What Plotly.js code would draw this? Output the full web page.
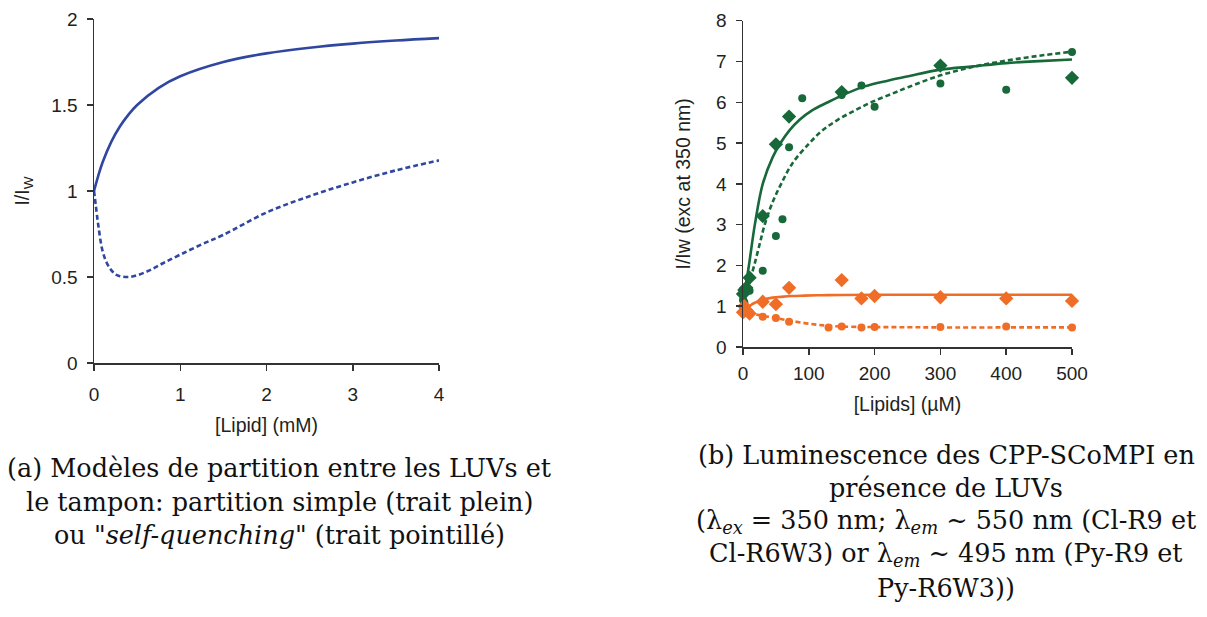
<!DOCTYPE html>
<html>
<head>
<meta charset="utf-8">
<script src="https://cdn.plot.ly/plotly-3.0.1.min.js"></script>
<style>html,body{margin:0;padding:0;background:#fff;}#chart{width:1207px;height:617px;}</style>
</head>
<body>
<div id="chart"></div>
<script>
// ---- Panel (a): partition models ----
const lipidMM = [0, 0.05, 0.1, 0.2, 0.3, 0.4, 0.5, 0.75, 1, 1.5, 2, 2.5, 3, 3.5, 4];
const simplePartition = [1, 1.09, 1.167, 1.286, 1.375, 1.444, 1.5, 1.6, 1.667, 1.75, 1.8, 1.833, 1.857, 1.875, 1.889];
const lipidMMq = [0, 0.02, 0.05, 0.1, 0.15, 0.2, 0.25, 0.3, 0.4, 0.5, 0.65, 0.8, 1, 1.25, 1.5, 2, 2.5, 3, 3.5, 4];
const selfQuenching = [1, 0.92, 0.8, 0.65, 0.58, 0.54, 0.515, 0.505, 0.5, 0.51, 0.54, 0.58, 0.63, 0.69, 0.745, 0.875, 0.97, 1.05, 1.12, 1.178];

// ---- Panel (b): luminescence data ----
const greenDiamondX = [0, 2, 5, 10, 30, 50, 70, 150, 300, 500];
const greenDiamondY = [1.3, 1.4, 1.45, 1.7, 3.21, 4.97, 5.65, 6.25, 6.9, 6.6];
const greenCircleX = [0, 2, 5, 10, 30, 50, 60, 70, 90, 150, 180, 200, 300, 400, 500];
const greenCircleY = [1.15, 1.1, 1.4, 1.38, 1.87, 2.72, 3.13, 4.9, 6.1, 6.18, 6.41, 5.89, 6.46, 6.31, 7.23];
const orangeDiamondX = [0, 2, 5, 10, 30, 50, 70, 150, 180, 200, 300, 400, 500];
const orangeDiamondY = [0.85, 1.0, 0.9, 0.82, 1.11, 1.05, 1.45, 1.64, 1.19, 1.25, 1.22, 1.19, 1.13];
const orangeCircleX = [0, 2, 5, 10, 30, 50, 70, 130, 150, 180, 200, 300, 400, 500];
const orangeCircleY = [0.95, 0.88, 0.92, 0.85, 0.74, 0.71, 0.62, 0.48, 0.5, 0.48, 0.49, 0.49, 0.5, 0.48];

const greenFitSolidX = [0, 2, 4, 9, 18, 30, 45, 57, 70, 86, 105, 129, 155, 185, 220, 249, 300, 350, 400, 450, 500];
const greenFitSolidY = [1.1, 1.3, 1.5, 2.0, 3.0, 4.0, 4.65, 5.0, 5.3, 5.57, 5.8, 6.0, 6.2, 6.39, 6.53, 6.63, 6.8, 6.88, 6.96, 7.01, 7.05];
const greenFitDashX = [2, 5, 10, 17, 25, 33, 45, 58, 75, 101, 120, 144, 170, 195, 225, 251, 300, 350, 400, 450, 500];
const greenFitDashY = [1.1, 1.3, 1.6, 2.0, 2.5, 3.0, 3.55, 4.0, 4.5, 5.0, 5.3, 5.57, 5.8, 6.0, 6.2, 6.37, 6.66, 6.87, 7.02, 7.14, 7.24];
const orangeFitSolidX = [0, 3, 6, 12, 20, 30, 45, 58, 75, 93, 120, 150, 200, 300, 400, 500];
const orangeFitSolidY = [0.92, 0.9, 0.93, 1.03, 1.1, 1.16, 1.21, 1.23, 1.25, 1.26, 1.27, 1.275, 1.28, 1.28, 1.28, 1.28];
const orangeFitDashX = [0, 5, 10, 22, 35, 50, 70, 101, 139, 195, 250, 300, 400, 500];
const orangeFitDashY = [1.0, 0.92, 0.85, 0.79, 0.75, 0.71, 0.65, 0.57, 0.51, 0.49, 0.485, 0.48, 0.48, 0.48];

const xTicksA = [0, 1, 2, 3, 4];
const yTicksA = [0, 0.5, 1, 1.5, 2];
const xTicksB = [0, 100, 200, 300, 400, 500];
const yTicksB = [0, 1, 2, 3, 4, 5, 6, 7, 8];

const BLUE = '#2f47a0', GREEN = '#18693a', ORANGE = '#f06d27';
const W = 1207, H = 617;

const traces = [
  {x: lipidMM, y: simplePartition, mode: 'lines', line: {color: BLUE, width: 2.6, shape: 'spline'}, xaxis: 'x', yaxis: 'y', showlegend: false},
  {x: lipidMMq, y: selfQuenching, mode: 'lines', line: {color: BLUE, width: 2.6, dash: '5px,3px', shape: 'spline'}, xaxis: 'x', yaxis: 'y', showlegend: false},

  {x: greenFitSolidX, y: greenFitSolidY, mode: 'lines', line: {color: GREEN, width: 2.6, shape: 'spline'}, xaxis: 'x2', yaxis: 'y2', showlegend: false},
  {x: greenFitDashX, y: greenFitDashY, mode: 'lines', line: {color: GREEN, width: 2.6, dash: '5px,3px', shape: 'spline'}, xaxis: 'x2', yaxis: 'y2', showlegend: false},
  {x: greenDiamondX, y: greenDiamondY, mode: 'markers', marker: {symbol: 'diamond', size: 11, color: GREEN}, xaxis: 'x2', yaxis: 'y2', cliponaxis: false, showlegend: false},
  {x: greenCircleX, y: greenCircleY, mode: 'markers', marker: {symbol: 'circle', size: 8, color: GREEN}, xaxis: 'x2', yaxis: 'y2', cliponaxis: false, showlegend: false},

  {x: orangeFitSolidX, y: orangeFitSolidY, mode: 'lines', line: {color: ORANGE, width: 2.6, shape: 'spline'}, xaxis: 'x2', yaxis: 'y2', showlegend: false},
  {x: orangeFitDashX, y: orangeFitDashY, mode: 'lines', line: {color: ORANGE, width: 2.6, dash: '5px,3px', shape: 'spline'}, xaxis: 'x2', yaxis: 'y2', showlegend: false},
  {x: orangeDiamondX, y: orangeDiamondY, mode: 'markers', marker: {symbol: 'diamond', size: 11, color: ORANGE}, xaxis: 'x2', yaxis: 'y2', cliponaxis: false, showlegend: false},
  {x: orangeCircleX, y: orangeCircleY, mode: 'markers', marker: {symbol: 'circle', size: 8, color: ORANGE}, xaxis: 'x2', yaxis: 'y2', cliponaxis: false, showlegend: false}
];

const tickFont = {family: 'Liberation Sans, Arial, sans-serif', size: 19, color: '#231f20'};
const titleFont = {family: 'Liberation Sans, Arial, sans-serif', size: 19.5, color: '#231f20'};
const axisCommon = {
  showline: true, linecolor: '#333', linewidth: 1.5, ticks: 'outside', ticklen: 6, tickwidth: 1.5,
  tickcolor: '#333', showgrid: false, zeroline: false, tickfont: tickFont, fixedrange: true
};

const px = v => v / W;
const py = v => 1 - v / H;

const capFont = {family: 'DejaVu Serif, Liberation Serif, serif', size: 25.5, color: '#111'};
function cap(text, cx, cy) {
  return {text: text, xref: 'paper', yref: 'paper', x: px(cx), y: py(cy), xanchor: 'center', yanchor: 'middle', showarrow: false, font: capFont};
}

const layout = {
  width: W, height: H,
  margin: {l: 0, r: 0, t: 0, b: 0},
  paper_bgcolor: '#fff', plot_bgcolor: '#fff',
  showlegend: false,
  xaxis: Object.assign({}, axisCommon, {
    domain: [px(94), px(439)], range: [0, 4], tickvals: xTicksA, anchor: 'y', ticklabelstandoff: 8,
    title: {text: '[Lipid] (mM)', font: titleFont, standoff: 14}
  }),
  yaxis: Object.assign({}, axisCommon, {
    domain: [py(363), py(19)], range: [0, 2], tickvals: yTicksA, anchor: 'x', ticklabelstandoff: 5,
    title: {text: 'I/I<sub>W</sub>', font: titleFont, standoff: 16}
  }),
  xaxis2: Object.assign({}, axisCommon, {
    domain: [px(743), px(1072)], range: [0, 500], tickvals: xTicksB, anchor: 'y2', ticklabelstandoff: 3,
    title: {text: '[Lipids] (µM)', font: titleFont, standoff: 14}
  }),
  yaxis2: Object.assign({}, axisCommon, {
    domain: [py(347), py(20.7)], range: [0, 8], tickvals: yTicksB, anchor: 'x2', ticklabelstandoff: 5,
    title: {text: 'I/Iw (exc at 350 nm)', font: titleFont, standoff: 20}
  }),
  annotations: [
    cap('(a) Modèles de partition entre les LUVs et', 279, 468),
    cap('le tampon: partition simple (trait plein)', 279, 502),
    cap('ou "<i>self-quenching</i>" (trait pointillé)', 279, 535),
    cap('(b) Luminescence des CPP-SCoMPI en', 946, 455),
    cap('présence de LUVs', 946, 488),
    cap('(λ<sub><i>ex</i></sub> = 350 nm; λ<sub><i>em</i></sub> ∼ 550 nm (Cl-R9 et', 946, 521),
    cap('Cl-R6W3) or λ<sub><i>em</i></sub> ∼ 495 nm (Py-R9 et', 946, 554),
    cap('Py-R6W3))', 946, 588)
  ]
};

Plotly.newPlot('chart', traces, layout, {staticPlot: true, displayModeBar: false});
</script>
</body>
</html>
